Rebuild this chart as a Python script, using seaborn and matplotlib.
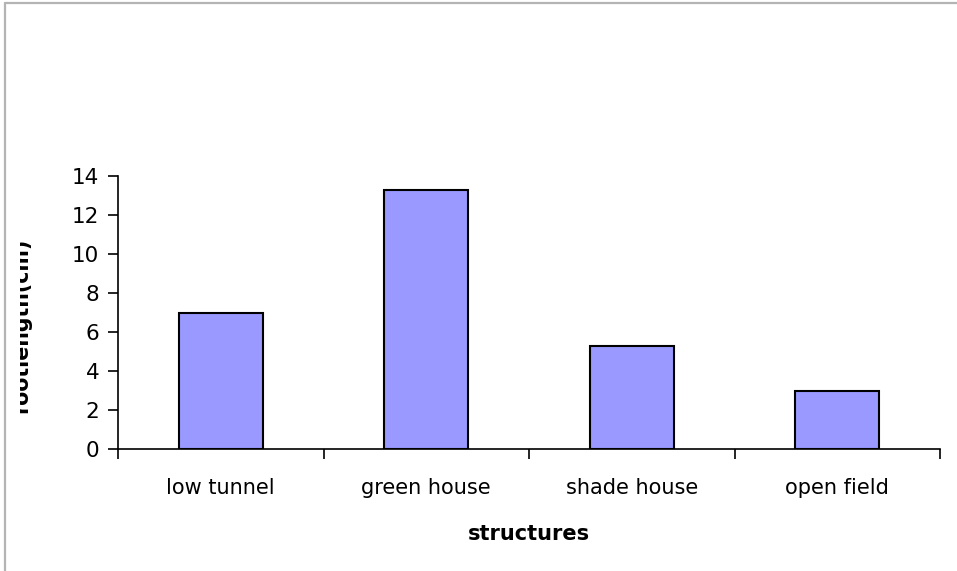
import matplotlib
matplotlib.use("Agg")
import matplotlib.pyplot as plt
from matplotlib.lines import Line2D
from matplotlib.transforms import Bbox
import seaborn as sns
import pandas as pd

# Root length by growing structure
structures = ["low tunnel", "green house", "shade house", "open field"]
root_length = [7.0, 13.3, 5.3, 3.0]
y_ticks = [0, 2, 4, 6, 8, 10, 12, 14]

sns.set_style("ticks")
plt.rcParams["font.family"] = ["DejaVu Sans"]

W, H = 957, 571
fig = plt.figure(figsize=(W / 100, H / 100), dpi=100)
fig.patch.set_facecolor("white")

# axes box in pixels: x 118..940, y 176..449 (from top)
ax = fig.add_axes([118 / W, (H - 449) / H, 822 / W, 273 / H])

df = pd.DataFrame({"structure": structures, "length": root_length})
sns.barplot(data=df, x="structure", y="length", ax=ax, color="#9999ff",
            saturation=1, width=0.41, edgecolor="black", linewidth=1.5)

ax.set_xlim(-0.5, len(structures) - 0.5)
ax.set_ylim(0, 14)
ax.set_yticks(y_ticks)
ax.set_facecolor("white")
ax.grid(False)

for side in ("top", "right"):
    ax.spines[side].set_visible(False)
for side in ("left", "bottom"):
    ax.spines[side].set_color("black")
    ax.spines[side].set_linewidth(1.2)

# category labels sit between boundary ticks
ax.set_xticks([i - 0.5 for i in range(len(structures) + 1)], minor=True)
ax.tick_params(axis="x", which="major", length=0, pad=21, labelsize=15,
               labelcolor="black")
ax.tick_params(axis="x", which="minor", length=7, width=1.2, direction="out",
               color="black")
ax.tick_params(axis="y", which="major", length=7, width=1.2, direction="out",
               pad=6.5, labelsize=15.5, labelcolor="black", color="black")

ax.set_xlabel("structures", fontsize=15, fontweight="bold", color="black",
              va="top")
ax.xaxis.set_label_coords(0.5, (449 - 524) / 273)

# y label runs off the left edge and is cut by the chart area
ax.set_ylabel("rootlength(cm)", fontsize=14.8, fontweight="bold",
              color="black")
ax.yaxis.set_label_coords((31 - 118) / 822, (449 - 325) / 273)
ylab = ax.yaxis.label
ylab.set_clip_box(Bbox([[19.5, 0], [W, H]]))
ylab.set_clip_on(True)

# thin grey frame along the top and left edges
fig.add_artist(Line2D([5 / W, 1], [(H - 3) / H, (H - 3) / H],
                      transform=fig.transFigure, color="#b4b4b4", lw=1.6))
fig.add_artist(Line2D([5 / W, 5 / W], [0, (H - 3) / H],
                      transform=fig.transFigure, color="#b4b4b4", lw=1.6))

fig.savefig("out.png", dpi=100, facecolor="white")
